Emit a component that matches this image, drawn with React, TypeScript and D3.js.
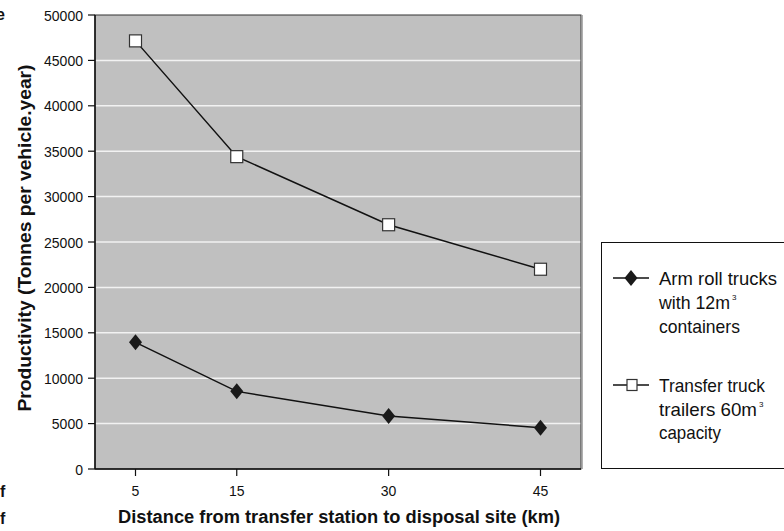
import React from "react";
import * as d3 from "d3";

const distances = [5, 15, 30, 45];
const armRoll = [13950, 8550, 5850, 4550];
const transfer = [47150, 34400, 26900, 22000];
const yTicks = [0, 5000, 10000, 15000, 20000, 25000, 30000, 35000, 40000, 45000, 50000];
const yTitle = "Productivity (Tonnes per vehicle.year)";
const xTitle = "Distance from transfer station to disposal site (km)";

const W = 784;
const H = 531;
const L = 95, R = 581, T = 15, B = 469;
const FONT = "'Liberation Sans', Arial, sans-serif";

export default function App() {
  const x = d3.scaleLinear().domain([1, 49]).range([L, R]);
  const y = d3.scaleLinear().domain([0, 50000]).range([B, T]);
  const line = d3.line<number>().x((_, i) => x(distances[i])).y((d) => y(d));

  const diamond = (cx: number, cy: number) =>
    `M${cx},${cy - 8}L${cx + 6.5},${cy}L${cx},${cy + 8}L${cx - 6.5},${cy}Z`;

  const legendText = (s: string, tx: number, ty: number, w: number, sup?: boolean) => (
    <text x={tx} y={ty}>
      <tspan textLength={w} lengthAdjust="spacingAndGlyphs">{s}</tspan>
      {sup && (
        <tspan dx={2} dy={-9} fontSize={8}>3</tspan>
      )}
    </text>
  );

  return (
    <svg width={W} height={H} style={{ position: "absolute", left: 0, top: 0, background: "#fff" }}>
      {/* cut-off page text at left edge */}
      <g fontFamily={FONT} fontWeight="bold" fontSize={16} fill="#111">
        <text x={-4} y={20}>e</text>
        <text x={0} y={497}>f</text>
        <text x={0} y={524}>f</text>
      </g>
      <rect x={L} y={T} width={R - L} height={B - T} fill="#c0c0c0" />
      {yTicks.filter((t) => t > 0 && t < 50000).map((t) => (
        <line key={t} x1={L} x2={R} y1={y(t)} y2={y(t)} stroke="#f2f2f2" strokeWidth={1.5} />
      ))}
      <line x1={R + 1.5} x2={R + 1.5} y1={T} y2={B} stroke="#b0b0b0" strokeWidth={1} />
      <rect x={L} y={T} width={R - L} height={B - T} fill="none" stroke="#333" strokeWidth={1} />
      <line x1={L} x2={L} y1={T} y2={B} stroke="#111" strokeWidth={1.5} />
      <line x1={L} x2={R} y1={B} y2={B} stroke="#111" strokeWidth={1.5} />
      {yTicks.map((t) => (
        <g key={t}>
          <line x1={L - 7} x2={L} y1={y(t)} y2={y(t)} stroke="#111" strokeWidth={1.2} />
          <text
            x={L - 12}
            y={y(t) + 5.5}
            textAnchor="end"
            fontFamily={FONT}
            fontSize={15}
            fill="#111"
            textLength={String(t).length * 7.8}
            lengthAdjust="spacingAndGlyphs"
          >
            {t}
          </text>
        </g>
      ))}
      {distances.map((d) => (
        <g key={d}>
          <line x1={x(d)} x2={x(d)} y1={B} y2={B + 7} stroke="#111" strokeWidth={1.2} />
          <text
            x={x(d)}
            y={B + 27}
            textAnchor="middle"
            fontFamily={FONT}
            fontSize={15}
            fill="#111"
            textLength={String(d).length * 7.8}
            lengthAdjust="spacingAndGlyphs"
          >
            {d}
          </text>
        </g>
      ))}
      <path d={line(transfer) || ""} fill="none" stroke="#111" strokeWidth={1.5} />
      <path d={line(armRoll) || ""} fill="none" stroke="#111" strokeWidth={1.5} />
      {transfer.map((v, i) => (
        <rect key={i} x={x(distances[i]) - 6} y={y(v) - 6} width={12} height={12} fill="#fff" stroke="#333" strokeWidth={1.2} />
      ))}
      {armRoll.map((v, i) => (
        <path key={i} d={diamond(x(distances[i]), y(v))} fill="#1a1a1a" />
      ))}
      <text
        transform={`translate(31, 238) rotate(-90)`}
        textAnchor="middle"
        fontFamily={FONT}
        fontWeight="bold"
        fontSize={18}
        fill="#111"
        textLength={347}
        lengthAdjust="spacingAndGlyphs"
      >
        {yTitle}
      </text>
      <text
        x={339}
        y={523}
        textAnchor="middle"
        fontFamily={FONT}
        fontWeight="bold"
        fontSize={18}
        fill="#111"
        textLength={442}
        lengthAdjust="spacingAndGlyphs"
      >
        {xTitle}
      </text>
      {/* legend */}
      <rect x={601.5} y={242.5} width={185} height={226} fill="#fff" stroke="#111" strokeWidth={1} />
      <line x1={613} x2={649} y1={278} y2={278} stroke="#111" strokeWidth={1.5} />
      <path d={diamond(631, 278)} fill="#1a1a1a" />
      <line x1={613} x2={649} y1={385} y2={385} stroke="#111" strokeWidth={1.5} />
      <rect x={627} y={379.5} width={10} height={11} fill="#fff" stroke="#333" strokeWidth={1.2} />
      <g fontFamily={FONT} fontSize={19} fill="#111">
        {legendText("Arm roll trucks", 659, 285, 118)}
        {legendText("with 12m", 659, 309, 71, true)}
        {legendText("containers", 659, 333, 81)}
        {legendText("Transfer truck", 659, 392, 106)}
        {legendText("trailers 60m", 659, 416, 98, true)}
        {legendText("capacity", 659, 439, 62)}
      </g>
    </svg>
  );
}
